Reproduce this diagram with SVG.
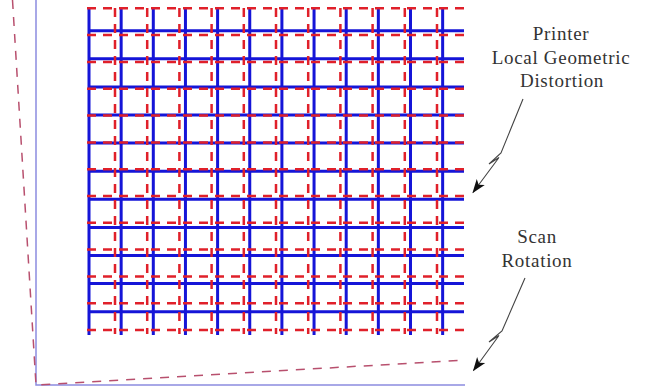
<svg xmlns="http://www.w3.org/2000/svg" width="647" height="390" viewBox="0 0 647 390">
<style>
.bg{fill:#ffffff}
.blue{stroke:#1515d8;stroke-width:3;fill:none}
.red{stroke:#e0202a;stroke-width:2.5;fill:none;stroke-dasharray:9 7}
.frame{stroke:#8c8ce0;stroke-width:1.5;fill:none}
.tilt{stroke:#b8506e;stroke-width:1.5;fill:none;stroke-dasharray:9 8}
.arrow{stroke:#444;stroke-width:1.1;fill:none;marker-end:url(#stealth)}
.lbl{font-family:"Liberation Serif","DejaVu Serif",serif;font-size:19px;fill:#333;text-anchor:middle;letter-spacing:0.7px}
</style>
<defs>
<marker id="stealth" markerUnits="userSpaceOnUse" markerWidth="16" markerHeight="12" refX="13" refY="5" orient="auto" viewBox="0 0 16 10">
<path d="M0,0 L14,5 L0,10 L3.5,5 z" fill="#111"/>
</marker>
</defs>
<rect class="bg" x="0" y="0" width="647" height="390"/>
<g id="frame">
<path class="frame" d="M36,0 L36,385 L465,385"/>
<path class="tilt" d="M12.5,0 L36,385 L465,360"/>
</g>
<g id="printed-grid">
<path class="blue" d="M89,7V335 M121.15,7V335 M153.3,7V335 M185.45,7V335 M217.6,7V335 M249.75,7V335 M281.9,7V335 M314.05,7V335 M346.2,7V335 M378.35,7V335 M410.5,7V335 M442.65,7V335"/>
<path class="blue" d="M89,30.7H464 M89,58.8H464 M89,86.9H464 M89,115H464 M89,143.1H464 M89,171.2H464 M89,199.3H464 M89,227.4H464 M89,255.5H464 M89,283.6H464 M89,311.7H464"/>
</g>
<g id="distorted-grid">
<path class="red" d="M87,8.3H465 M87,35.1H465 M87,61.9H465 M87,88.7H465 M87,115.5H465 M87,142.4H465 M87,169.2H465 M87,196H465 M87,222.8H465 M87,249.6H465 M87,276.4H465 M87,303.2H465 M87,330H465"/>
<path class="red" d="M115,8V334 M147.2,8V334 M179.4,8V334 M211.6,8V334 M243.8,8V334 M276,8V334 M308.2,8V334 M340.4,8V334 M372.6,8V334 M404.8,8V334 M437,8V334"/>
</g>
<g id="label-printer">
<text class="lbl" x="561" y="40">Printer</text>
<text class="lbl" x="561" y="63.7">Local Geometric</text>
<text class="lbl" x="562" y="87">Distortion</text>
</g>
<g id="label-scan">
<text class="lbl" x="537" y="243">Scan</text>
<text class="lbl" x="537" y="266.5">Rotation</text>
</g>
<g id="connectors">
<path class="arrow" d="M523,99 L501,153 L489,164 L499,157.5 L473,192.5"/>
<path class="arrow" d="M525,278 L502,331 L489,342 L499,335.5 L473.5,370.5"/>
</g>
</svg>
